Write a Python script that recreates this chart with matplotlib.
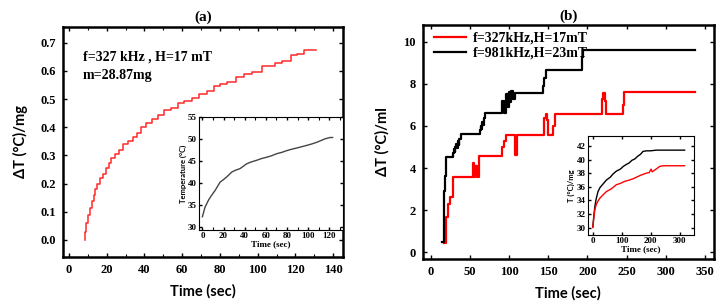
import numpy as np
import matplotlib.pyplot as plt
from matplotlib.ticker import MultipleLocator

# ---- panel (a): dT/mg, 327 kHz, 17 mT (step times, levels)
a_t = [8.3, 8.6, 9.2, 10, 11, 12, 13, 14, 15, 16.4, 18, 19.5, 21, 22.5, 24.5,
       26.5, 28.5, 31.5, 34, 36, 38, 41, 44, 47, 50.5, 54, 57.5, 61, 65, 69,
       73, 77, 80, 83.5, 88.5, 93, 97, 102.5, 109, 113, 117.5, 121, 124.5, 131]
a_dT = [0.0, 0.03, 0.06, 0.09, 0.115, 0.14, 0.16, 0.18, 0.20, 0.22, 0.235,
        0.255, 0.275, 0.29, 0.305, 0.32, 0.34, 0.35, 0.365, 0.38, 0.40, 0.415,
        0.43, 0.445, 0.46, 0.47, 0.485, 0.495, 0.505, 0.52, 0.53, 0.545, 0.553,
        0.562, 0.58, 0.588, 0.598, 0.618, 0.63, 0.637, 0.656, 0.66, 0.673, 0.673]

# inset (a): temperature vs time
ia_t = [0, 2.5, 6, 9, 12, 16.7, 20, 23, 27.7, 31, 35.6, 41.9, 46, 51.3, 56,
        60.8, 65, 70.2, 75, 79.7, 84, 89.1, 94, 98.6, 103, 108, 112, 115.9, 120.6, 123]
ia_T = [32.3, 34.5, 36.2, 37.3, 38.3, 40.2, 40.8, 41.4, 42.5, 42.9, 43.3, 44.4,
        44.8, 45.2, 45.6, 45.9, 46.2, 46.7, 47.0, 47.4, 47.7, 48.0, 48.3, 48.6,
        48.9, 49.3, 49.7, 50.1, 50.4, 50.4]

# ---- panel (b): dT/ml (step times, levels)
b_red_t = [16.5, 19, 22, 24.3, 28.5, 54, 55.5, 57, 58.5, 61.7, 91.5, 93, 95.8,
           107, 110, 145, 146.5, 148.5, 150, 156, 158.6, 219, 220.5, 222, 223.5,
           245, 247, 338]
b_red = [0.43, 1.68, 2.3, 2.63, 3.59, 4.22, 3.59, 4.1, 3.59, 4.57, 5.0, 5.3,
         5.57, 4.62, 5.57, 6.4, 6.55, 6.3, 5.57, 6.0, 6.59, 7.3, 7.55, 7.2, 6.59,
         7.0, 7.6, 7.6]
b_blk_t = [14.7, 16.5, 17.2, 18, 19.5, 28.5, 29.5, 30.5, 31.5, 32.5, 33.5, 34.5,
           35.5, 36.5, 38, 62.6, 63.5, 64.5, 65.5, 66.5, 67.5, 69, 91, 94, 96,
           98, 100, 101.5, 103, 105, 107, 109.5, 143, 145, 146.5, 193, 195, 338]
b_blk = [0.49, 1.5, 2.9, 3.6, 4.54, 4.7, 4.9, 4.75, 5.0, 5.15, 4.95, 5.3, 5.1,
         5.4, 5.62, 5.8, 6.0, 5.85, 6.2, 6.05, 6.4, 6.63, 7.2, 6.63, 7.5, 6.9,
         7.6, 7.15, 7.65, 7.3, 7.56, 7.56, 7.9, 8.3, 8.65, 9.3, 9.63, 9.63]

# inset (b): T vs time
ib_blk_t = [0, 3, 7, 12, 18, 25, 35, 47, 60, 70, 81, 95, 105, 116, 125, 135, 145,
            155, 165, 173, 185, 200, 219, 240, 317]
ib_blk_T = [30.1, 31.5, 33.1, 34.3, 35.3, 35.9, 36.4, 37.0, 37.4, 37.9, 38.3,
            38.6, 39.0, 39.3, 39.5, 39.9, 40.1, 40.5, 40.8, 41.2, 41.3, 41.3,
            41.4, 41.4, 41.4]
ib_red_t = [0, 3, 7, 12, 18, 24, 35, 47, 60, 70, 81, 95, 110, 127, 140, 150, 165,
            184, 195, 201, 205, 215, 231, 243, 317]
ib_red_T = [30.0, 31.2, 32.6, 33.4, 33.9, 34.3, 34.8, 35.3, 35.6, 35.9, 36.3,
            36.5, 36.8, 37.0, 37.2, 37.4, 37.7, 38.0, 38.1, 38.6, 38.2, 38.5,
            39.0, 39.1, 39.1]

SERIF = ['Liberation Serif', 'DejaVu Serif']
SANS = ['Lato', 'DejaVu Sans']

fig = plt.figure(figsize=(7.24, 3.04), dpi=100)


def style_axes(ax, fs, lw=1.8, pad=5):
    for sp in ax.spines.values():
        sp.set_linewidth(lw)
    ax.tick_params(which='both', direction='in', top=True, right=True)
    ax.tick_params(which='major', length=3, width=1, labelsize=fs, pad=pad)
    ax.tick_params(which='minor', length=2, width=0.8)
    for lab in ax.get_xticklabels() + ax.get_yticklabels():
        lab.set_family(SERIF)
        lab.set_fontweight('bold')


# ---------------- (a)
ax1 = fig.add_axes([0.087, 0.155, 0.387, 0.757])
ax1.plot(a_t, a_dT, drawstyle='steps-post', color='#ff2a2a', lw=1.1)
ax1.set_xlim(-3.2, 145.3)
ax1.set_ylim(-0.06, 0.757)
ax1.xaxis.set_major_locator(MultipleLocator(20))
ax1.xaxis.set_minor_locator(MultipleLocator(10))
ax1.yaxis.set_major_locator(MultipleLocator(0.1))
ax1.yaxis.set_major_formatter(plt.FormatStrFormatter('%.1f'))
style_axes(ax1, 9)
ax1.set_xlabel('Time (sec)', family=SANS, fontweight='bold', fontsize=10.5, labelpad=6)
ax1.set_ylabel('ΔT (°C)/mg', family=SANS, fontweight='bold', fontsize=10.5, labelpad=9)
ax1.set_title('(a)', family=SERIF, fontweight='bold', fontsize=11, pad=4)
ax1.text(0.07, 0.87, 'f=327 kHz , H=17 mT', transform=ax1.transAxes,
         family=SERIF, fontweight='bold', fontsize=10, va='center')
ax1.text(0.07, 0.79, 'm=28.87mg', transform=ax1.transAxes,
         family=SERIF, fontweight='bold', fontsize=10, va='center')

ins1 = fig.add_axes([0.275, 0.243, 0.199, 0.372])
ins1.plot(ia_t, ia_T, color='#444444', lw=1.0)
ins1.set_xlim(-3.1, 133)
ins1.set_ylim(29.25, 55.07)
ins1.xaxis.set_major_locator(MultipleLocator(20))
ins1.xaxis.set_minor_locator(MultipleLocator(10))
ins1.yaxis.set_major_locator(MultipleLocator(5))
style_axes(ins1, 6.5, lw=0.8, pad=1.5)
ins1.tick_params(which='major', length=2)
ins1.set_xlabel('Time (sec)', family=SERIF, fontweight='bold', fontsize=6.5, labelpad=0)
ins1.set_ylabel('Temperature (°C)', family=SANS, fontweight='bold', fontsize=5.5, labelpad=1)

# ---------------- (b)
ax2 = fig.add_axes([0.584, 0.148, 0.402, 0.770])
ax2.plot(b_red_t, b_red, drawstyle='steps-post', color='#ff0000', lw=1.6,
         label='f=327kHz,H=17mT')
ax2.plot(b_blk_t, b_blk, drawstyle='steps-post', color='black', lw=1.6,
         label='f=981kHz,H=23mT')
ax2.set_xlim(-10.2, 361.5)
ax2.set_ylim(-0.33, 10.81)
ax2.xaxis.set_major_locator(MultipleLocator(50))
ax2.yaxis.set_major_locator(MultipleLocator(2))
style_axes(ax2, 9)
ax2.set_xlabel('Time (sec)', family=SANS, fontweight='bold', fontsize=10.5, labelpad=6)
ax2.set_ylabel('ΔT (°C)/ml', family=SANS, fontweight='bold', fontsize=10.5, labelpad=10)
ax2.set_title('(b)', family=SERIF, fontweight='bold', fontsize=11, pad=4)
leg = ax2.legend(loc='upper left', bbox_to_anchor=(-0.005, 1.025), frameon=False,
                 prop={'family': SERIF, 'weight': 'bold', 'size': 10},
                 handlelength=2.3, handletextpad=0.5, labelspacing=0.15)

ins2 = fig.add_axes([0.812, 0.227, 0.146, 0.326])
ins2.plot(ib_blk_t, ib_blk_T, color='black', lw=1.0)
ins2.plot(ib_red_t, ib_red_T, color='#ff0000', lw=1.0)
ins2.set_xlim(-17, 348)
ins2.set_ylim(28.9, 43.5)
ins2.xaxis.set_major_locator(MultipleLocator(100))
ins2.yaxis.set_major_locator(MultipleLocator(2))
style_axes(ins2, 6.5, lw=0.8, pad=1.5)
ins2.tick_params(which='major', length=2)
ins2.set_xlabel('Time (sec)', family=SERIF, fontweight='bold', fontsize=6.5, labelpad=0)
ins2.set_ylabel('T (°C)/mg', family=SANS, fontweight='bold', fontsize=5.5, labelpad=1)

fig.savefig('out.png', dpi=100)
